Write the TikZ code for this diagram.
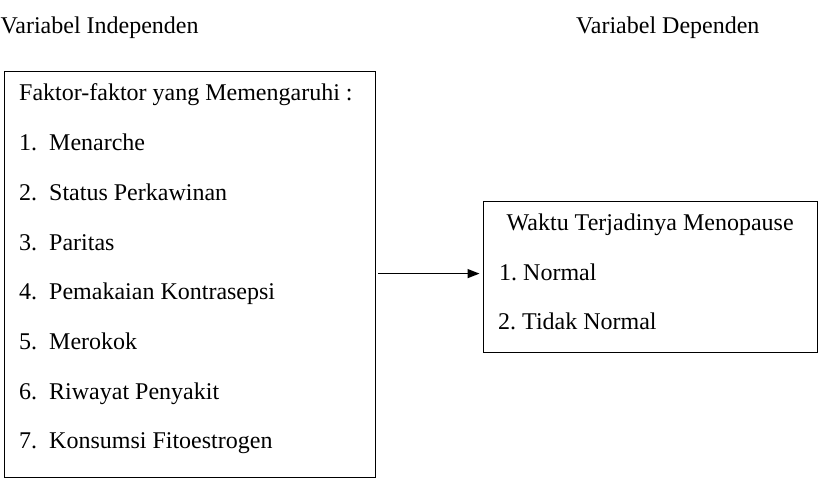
\documentclass[tikz,border=0pt]{standalone}
\usepackage{fontspec}
\setmainfont{Liberation Serif}
\usetikzlibrary{arrows.meta}
\frenchspacing
\begin{document}
\begin{tikzpicture}[x=1pt,y=-1pt,
  txt/.style={anchor=base west,inner sep=0pt,font=\fontsize{24}{28}\selectfont},
  box/.style={draw,line width=1.6pt,inner sep=0pt,anchor=north west},
  conn/.style={line width=1.6pt,-{Triangle[length=12pt,width=9pt]}}]
\useasboundingbox (0,0) rectangle (818,492);
\node[txt] (h1) at (0.5,34) {Variabel Independen};
\node[txt] (h2) at (576,34) {Variabel Dependen};
\node[box,minimum width=371pt,minimum height=406pt] (L) at (3.8,70.8) {};
\node[box,minimum width=334pt,minimum height=151pt] (R) at (482.5,200.5) {};
\node[txt] (l0) at (19,101) {Faktor-faktor yang Memengaruhi :};
\node[txt] (l1) at (19,150.7) {\makebox[30pt][l]{1.}Menarche};
\node[txt] (l2) at (19,200.4) {\makebox[30pt][l]{2.}Status Perkawinan};
\node[txt] (l3) at (19,250.1) {\makebox[30pt][l]{3.}Paritas};
\node[txt] (l4) at (19,299.8) {\makebox[30pt][l]{4.}Pemakaian Kontrasepsi};
\node[txt] (l5) at (19,349.5) {\makebox[30pt][l]{5.}Merokok};
\node[txt] (l6) at (19,399.2) {\makebox[30pt][l]{6.}Riwayat Penyakit};
\node[txt] (l7) at (19,448.9) {\makebox[30pt][l]{7.}Konsumsi Fitoestrogen};
\node[txt] (r0) at (506.5,230) {Waktu Terjadinya Menopause};
\node[txt] (r1) at (499,280) {1. Normal};
\node[txt] (r2) at (498,329) {2. Tidak Normal};
\draw[conn] ([xshift=2pt,yshift=1pt]L.east) -- ([xshift=-3pt,yshift=1pt]L.east -| R.west);
\end{tikzpicture}
\end{document}
